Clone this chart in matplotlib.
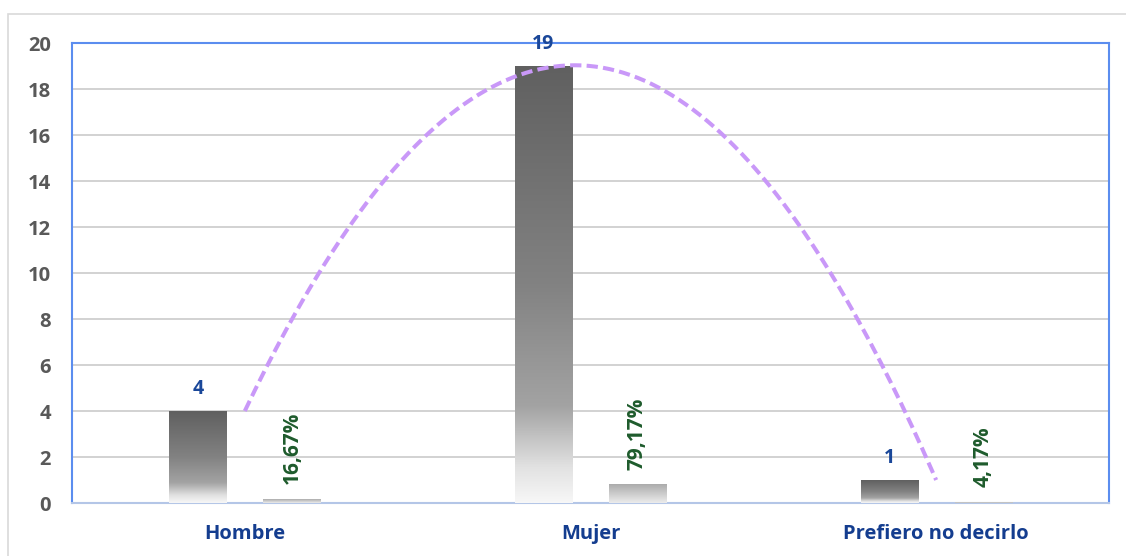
import numpy as np
import matplotlib
matplotlib.use("Agg")
import matplotlib.pyplot as plt
from matplotlib.colors import LinearSegmentedColormap
from matplotlib.patches import Rectangle

# data
categorias = ["Hombre", "Mujer", "Prefiero no decirlo"]
cantidad = [4, 19, 1]
porcentaje = [0.1667, 0.7917, 0.0417]
etiquetas_pct = ["16,67%", "79,17%", "4,17%"]

plt.rcParams["font.family"] = ["Open Sans", "DejaVu Sans"]
plt.rcParams["font.weight"] = "bold"

fig = plt.figure(figsize=(11.26, 5.56), dpi=100)
ax = fig.add_axes([0.0639, 0.0953, 0.921, 0.8273])

# outer frame of the picture
fig.patches.append(Rectangle((8 / 1126, -0.01), 1.02, (556 - 14) / 556 + 0.01,
                             transform=fig.transFigure, fill=False,
                             edgecolor="#d9d9d9", lw=1.2))

cmap_cnt = LinearSegmentedColormap.from_list(
    "cnt", [(0, "#f7f7f7"), (0.08, "#e2e2e2"), (0.22, "#a3a3a3"),
            (0.5, "#828282"), (1, "#606060")])
cmap_pct = LinearSegmentedColormap.from_list("pct", ["#ececec", "#ababab"])

x = np.arange(len(categorias))
w = 0.165
off = 0.136
grad = np.linspace(0, 1, 256).reshape(-1, 1)

def grad_bar(xc, h, cmap):
    ax.imshow(grad, cmap=cmap, origin="lower", aspect="auto",
              extent=[xc - w / 2, xc + w / 2, 0, h], zorder=3)

for i in range(len(categorias)):
    grad_bar(x[i] - off, cantidad[i], cmap_cnt)
    grad_bar(x[i] + off, porcentaje[i], cmap_pct)
    ax.annotate(str(cantidad[i]), (x[i] - off, cantidad[i]),
                xytext=(0, 16), textcoords="offset points",
                ha="center", va="center", color="#1a4799",
                fontsize=14, fontweight="bold", zorder=6, annotation_clip=False)
    ax.annotate(etiquetas_pct[i], (x[i] + off, porcentaje[i]),
                xytext=(0, 11), textcoords="offset points",
                ha="center", va="bottom", rotation=90, color="#1e5b2c",
                fontsize=15, fontweight="bold", zorder=6)

# polynomial trendline (order 2) of the counts
coef = np.polyfit(x, cantidad, 2)
xs = np.linspace(x[0], x[-1], 200)
ax.plot(xs, np.polyval(coef, xs), color="#c998f8", lw=2.9,
        dashes=(2.8, 1.3), zorder=5)

ax.set_xlim(-0.5, len(categorias) - 0.5)
ax.set_ylim(0, 20)
ax.set_yticks(range(0, 21, 2))
ax.set_xticks(x)
ax.set_xticklabels(categorias, color="#143d8f", fontsize=14.5, fontweight="bold")
ax.tick_params(axis="y", length=0, pad=15, labelsize=14.5, labelcolor="#595959")
ax.tick_params(axis="x", length=0, pad=15)
ax.grid(axis="y", color="#cfcfcf", lw=1.3, zorder=0)
ax.set_axisbelow(True)

for s in ["left", "top", "right"]:
    ax.spines[s].set_color("#5b8def")
    ax.spines[s].set_linewidth(1.5)
ax.spines["bottom"].set_color("#b4c6e7")
ax.spines["bottom"].set_linewidth(1.5)

fig.savefig("out.png", dpi=100)
